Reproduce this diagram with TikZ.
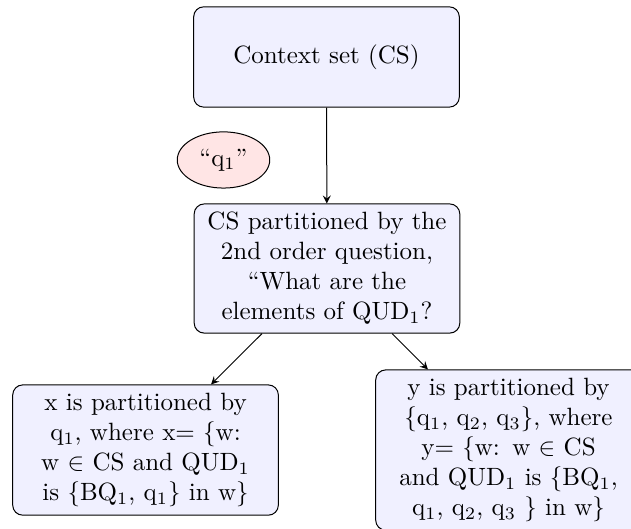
\documentclass[tikz,border=0pt]{standalone}
\usetikzlibrary{shapes.geometric}
\begin{document}
\begin{tikzpicture}[
  box/.style={rectangle, rounded corners, draw=black, fill=blue!6, text width=3.5cm, align=center},
  utter/.style={ellipse, draw=black, fill=red!10, minimum width=1.3cm, minimum height=0.79cm}]
\useasboundingbox (0,0) rectangle (8.871,-7.437);
\node [box, minimum height=1.41cm](CS) at (4.590,-0.801){Context set (CS)};
\node [utter](Q1) at (3.142,-2.249){``q$_1$''};
\node [box](P2) at (4.597,-3.775){CS partitioned by the 2nd order question, ``What are the elements of QUD$_1$?};
\node [box](X) at (2.046,-6.327){x is partitioned by q$_1$, where x= \{w: w $\in$ CS and QUD$_1$ is \{BQ$_1$, q$_1$\} in w\}};
\node [box](Y) at (7.149,-6.327){y is partitioned by \{q$_1$, q$_2$, q$_3$\}, where y= \{w: w $\in$ CS and QUD$_1$ is \{BQ$_1$, q$_1$, q$_2$, q$_3$ \} in w\}};
\draw [-stealth](CS) edge (P2);
\draw [-stealth](P2) edge (X);
\draw [-stealth](P2) edge (Y);
\end{tikzpicture}
\end{document}
